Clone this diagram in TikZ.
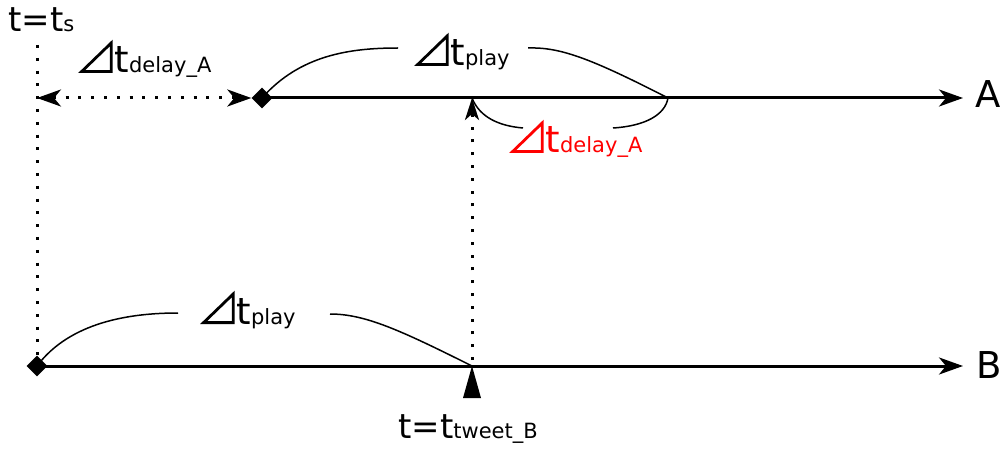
\documentclass[tikz,border=0pt]{standalone}
\usepackage{fontspec}
\setmainfont{DejaVu Sans}
\usetikzlibrary{arrows.meta,shapes.geometric}
\newcommand{\bigtxt}{\fontsize{34}{40}\selectfont}
\newcommand{\axtxt}{\fontsize{37}{42}\selectfont}
\newcommand{\subtxt}{\fontsize{21}{24}\selectfont}
\newcommand{\dtri}[1][black]{\tikz[baseline=0pt]\draw[draw=#1,line width=2.8pt,line join=miter,dash pattern=] (1.4pt,1.4pt) -- (31pt,1.4pt) -- (31pt,30pt) -- cycle;\kern2pt{\fontsize{37}{42}\selectfont t}}
\begin{document}
\begin{tikzpicture}[x=1pt,y=-1pt,
  axis/.style={line width=3pt,-{Stealth[length=24pt,width=17pt,inset=7pt]}},
  dotline/.style={line width=3pt,dash pattern=on 3pt off 9.8pt},
  brace/.style={line width=1.5pt},
  dmd/.style={diamond,fill=black,draw=none,minimum size=21pt,inner sep=0pt},
  lbl/.style={anchor=base west,inner sep=0pt,font=\bigtxt},
  dotarrow/.style={dotline,{Stealth[length=24pt,width=17pt,inset=7pt]}-{Stealth[length=24pt,width=17pt,inset=7pt]}},
]
\useasboundingbox (0,0) rectangle (1001,449);
% points
\coordinate (ts) at (37,45);
\coordinate (aEnd) at (963,98);
\coordinate (bEnd) at (963,366);
\coordinate (aMid) at (472,98);
\coordinate (aEndPlay) at (668,98);
\coordinate (tw) at (472,366);
\coordinate (twBot) at (472,360);
\coordinate (tsA) at (37,98);
\coordinate (tsB) at (37,358);
% axes
\node[dmd] (dA) at (262,98) {};
\node[dmd] (dB) at (37,366) {};
\draw[axis] (dA.center) -- (aEnd);
\draw[axis] (dB.center) -- (bEnd);
\node[lbl,font=\axtxt] (labA) at (975,108) {A};
\node[lbl,font=\axtxt] (labB) at (976,378) {B};
% dotted lines
\draw[dotline] (ts) -- (tsB);
\draw[dotarrow] (tsA) -- (dA.west);
\draw[dotline,-{Stealth[length=22pt,width=14pt,inset=6pt]}] (twBot) -- (aMid);
% triangle marker
\fill (tw) -- ++(9,32) -- ++(-18,0) -- cycle;
% labels
\node[lbl] (lts) at (8,32) {t=t{\subtxt s}};
\node[lbl] (ldelay) at (80,73) {\dtri{\subtxt delay\_A}};
\node[lbl] (lplayA) at (416,66) {\dtri{\subtxt play}};
\node[lbl,text=red] (ldelayR) at (511,153) {\dtri[red]{\subtxt delay\_A}};
\node[lbl] (lplayB) at (202,324) {\dtri{\subtxt play}};
\node[lbl] (ltw) at (398,438) {t=t{\subtxt tweet\_B}};
% braces
\draw[brace] (dA.center) .. controls (300,55) and (350,48) .. (398,48);
\draw[brace] (528,48) .. controls (560,47) and (590,58) .. (aEndPlay);
\draw[brace] (aMid) .. controls (480,118) and (500,126) .. (523,128);
\draw[brace] (613,128) .. controls (645,126) and (665,115) .. (aEndPlay);
\draw[brace] (dB.center) .. controls (70,322) and (130,313) .. (178,313);
\draw[brace] (330,314) .. controls (365,314) and (400,330) .. (tw);
\end{tikzpicture}
\end{document}
